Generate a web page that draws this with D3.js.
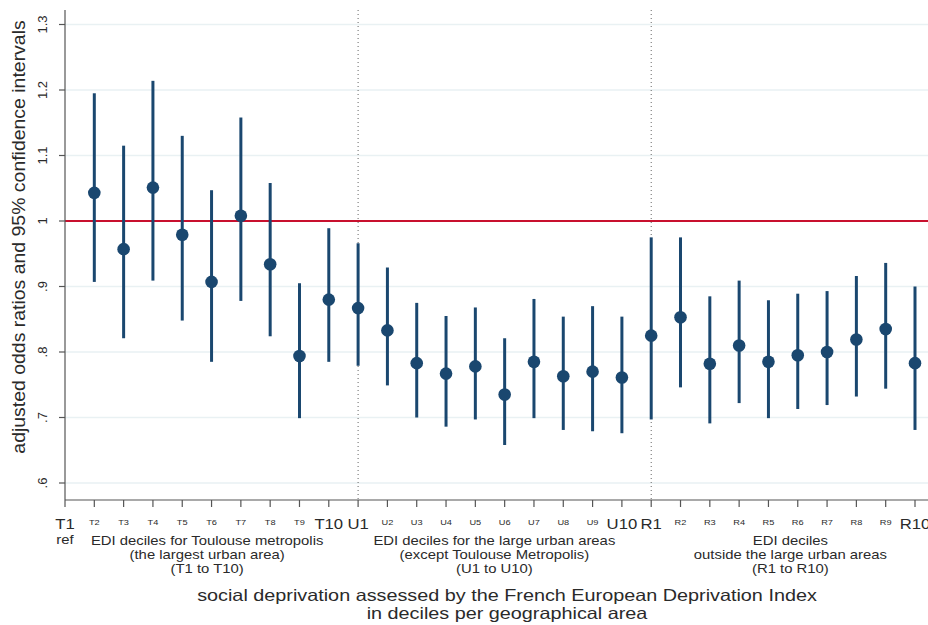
<!DOCTYPE html>
<html>
<head>
<meta charset="utf-8">
<script src="https://cdn.jsdelivr.net/npm/d3@7"></script>
<style>
  html, body { margin: 0; padding: 0; background: #fff; }
  svg { display: block; font-family: "Liberation Sans", Arial, sans-serif; }
</style>
</head>
<body>
<svg id="chart" width="928" height="625"></svg>
<script>
// ---- data ----
const categories = ["T1","T2","T3","T4","T5","T6","T7","T8","T9","T10",
                    "U1","U2","U3","U4","U5","U6","U7","U8","U9","U10",
                    "R1","R2","R3","R4","R5","R6","R7","R8","R9","R10"];
const oddsRatio = [null,1.043,0.957,1.051,0.979,0.907,1.008,0.934,0.794,0.880,
                   0.867,0.833,0.783,0.767,0.778,0.735,0.785,0.763,0.770,0.761,
                   0.825,0.853,0.782,0.810,0.785,0.795,0.800,0.819,0.835,0.783];
const ciLow     = [null,0.907,0.821,0.909,0.848,0.785,0.878,0.824,0.699,0.785,
                   0.779,0.749,0.700,0.686,0.697,0.658,0.699,0.681,0.679,0.676,
                   0.697,0.746,0.691,0.722,0.699,0.713,0.719,0.732,0.744,0.681];
const ciHigh    = [null,1.195,1.115,1.214,1.130,1.047,1.158,1.058,0.905,0.989,
                   0.966,0.929,0.875,0.855,0.868,0.821,0.881,0.854,0.870,0.854,
                   0.975,0.975,0.885,0.909,0.879,0.889,0.893,0.916,0.936,0.900];
const yTicks = [0.6,0.7,0.8,0.9,1.0,1.1,1.2,1.3];
const yTickLabels = [".6",".7",".8",".9","1","1.1","1.2","1.3"];
const bigLabels = ["T1","T10","U1","U10","R1","R10"];
const separators = ["U1","R1"];
const groupLabels = [
  ["EDI deciles for Toulouse metropolis","(the largest urban area)","(T1 to T10)"],
  ["EDI deciles for the large urban areas","(except Toulouse Metropolis)","(U1 to U10)"],
  ["EDI deciles","outside the large urban areas","(R1 to R10)"]
];
const groupCenters = [4.85, 14.65, 24.75];
const xTitle = ["social deprivation assessed by the French European Deprivation Index",
                "in deciles per geographical area"];
const yTitle = "adjusted odds ratios and 95% confidence intervals";

// ---- layout ----
const svg = d3.select("#chart");
const W = 928;
const plotLeft = 65, axisY = 500, plotTop = 10;
const x = d3.scaleLinear().domain([0, 29]).range([65, 915]);
const y = d3.scaleLinear().domain([1.0, 1.3]).range([221, 24.5]);
const navy = "#1a476f";
const textCol = "#2a2a2a";
const STRETCH = 1.1;

function stretch(sel, k) {
  sel.each(function() {
    const len = this.getComputedTextLength();
    d3.select(this).attr("textLength", len * k).attr("lengthAdjust", "spacingAndGlyphs");
  });
}

// gridlines
svg.append("g").selectAll("line").data(yTicks).join("line")
  .attr("x1", plotLeft).attr("x2", W)
  .attr("y1", d => y(d)).attr("y2", d => y(d))
  .attr("stroke", "#e9f1f3").attr("stroke-width", 1.5);

// vertical dotted separators
svg.append("g").selectAll("line").data(separators).join("line")
  .attr("x1", d => x(categories.indexOf(d))).attr("x2", d => x(categories.indexOf(d)))
  .attr("y1", plotTop).attr("y2", axisY)
  .attr("stroke", "#666").attr("stroke-width", 1).attr("stroke-dasharray", "1,3");

// reference line at 1
svg.append("line")
  .attr("x1", plotLeft).attr("x2", W).attr("y1", y(1)).attr("y2", y(1))
  .attr("stroke", "#c8102e").attr("stroke-width", 2);

// data
const rows = categories.map((c, i) => ({c, i, or: oddsRatio[i], lo: ciLow[i], hi: ciHigh[i]}))
  .filter(d => d.or !== null);

svg.append("g").selectAll("line").data(rows).join("line")
  .attr("x1", d => x(d.i)).attr("x2", d => x(d.i))
  .attr("y1", d => y(d.lo)).attr("y2", d => y(d.hi))
  .attr("stroke", navy).attr("stroke-width", 3);

svg.append("g").selectAll("circle").data(rows).join("circle")
  .attr("cx", d => x(d.i)).attr("cy", d => y(d.or)).attr("r", 6.3)
  .attr("fill", navy);

// y axis
const yAxisG = svg.append("g");
yAxisG.append("line").attr("x1", plotLeft).attr("x2", plotLeft).attr("y1", plotTop).attr("y2", axisY)
  .attr("stroke", "#555").attr("stroke-width", 1.2);
yAxisG.selectAll("line.t").data(yTicks).join("line").attr("class", "t")
  .attr("x1", plotLeft - 6).attr("x2", plotLeft)
  .attr("y1", d => y(d)).attr("y2", d => y(d))
  .attr("stroke", "#555").attr("stroke-width", 1.2);
yAxisG.selectAll("text").data(yTicks).join("text")
  .attr("transform", d => `translate(47,${y(d)}) rotate(-90)`)
  .attr("text-anchor", "middle")
  .attr("font-size", 13).attr("fill", textCol)
  .text((d, i) => yTickLabels[i]);

svg.append("text")
  .attr("transform", `translate(25,${237}) rotate(-90)`)
  .attr("text-anchor", "middle").attr("font-size", 18).attr("fill", textCol)
  .text(yTitle)
  .call(stretch, 1.08);

// x axis
const xAxisG = svg.append("g");
xAxisG.append("line").attr("x1", plotLeft).attr("x2", W).attr("y1", axisY).attr("y2", axisY)
  .attr("stroke", "#555").attr("stroke-width", 1.2);
xAxisG.selectAll("line.t").data(categories).join("line").attr("class", "t")
  .attr("x1", (d, i) => x(i)).attr("x2", (d, i) => x(i))
  .attr("y1", axisY).attr("y2", axisY + 7)
  .attr("stroke", "#555").attr("stroke-width", 1.2);
xAxisG.selectAll("text").data(categories).join("text")
  .attr("x", (d, i) => x(i))
  .attr("y", d => bigLabels.includes(d) ? 529 : 525)
  .attr("text-anchor", "middle")
  .attr("font-size", d => bigLabels.includes(d) ? 14.5 : 8)
  .attr("fill", textCol)
  .text(d => d)
  .call(stretch, 1.15);

svg.append("text").attr("x", x(0)).attr("y", 544).attr("text-anchor", "middle")
  .attr("font-size", 13.5).attr("fill", textCol).text("ref")
  .call(stretch, STRETCH);

groupLabels.forEach((lines, gi) => {
  lines.forEach((ln, li) => {
    svg.append("text")
      .attr("x", x(groupCenters[gi])).attr("y", 545 + li * 14)
      .attr("text-anchor", "middle").attr("font-size", 13.5).attr("fill", textCol)
      .text(ln)
      .call(stretch, STRETCH);
  });
});

xTitle.forEach((t, i) => {
  svg.append("text").attr("x", 507).attr("y", 601 + i * 18)
    .attr("text-anchor", "middle").attr("font-size", 16.5).attr("fill", textCol)
    .text(t)
    .call(stretch, 1.2);
});
</script>
</body>
</html>
